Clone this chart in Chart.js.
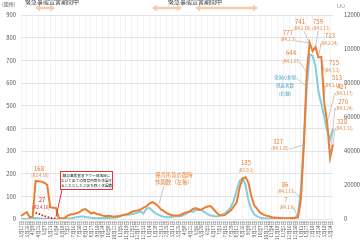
<!DOCTYPE html>
<html lang="ja">
<head>
<meta charset="utf-8">
<title>保育所等の臨時休園数と全国の新規感染者数</title>
<script src="https://cdn.jsdelivr.net/npm/chart.js@4.4.1/dist/chart.umd.min.js"></script>
<style>
html,body{margin:0;padding:0;background:#fff;}
canvas{display:block;}
</style>
</head>
<body>
<canvas id="chart" width="360" height="240"></canvas>
<script>
// weekly (Thursday) categories, R2.3.12 .. R4.3.31
const weeks = [
	'3月12日','3月19日','3月26日','4月2日','4月9日','4月16日','4月23日','4月30日',
	'5月7日','5月14日','5月21日','5月28日','6月4日','6月11日','6月18日','6月25日',
	'7月2日','7月9日','7月16日','7月23日','7月30日','8月6日','8月13日','8月20日','8月27日',
	'9月3日','9月10日','9月17日','9月24日','10月1日','10月8日','10月15日','10月22日','10月29日',
	'11月5日','11月12日','11月19日','11月26日','12月3日','12月10日','12月17日','12月24日','12月31日',
	'1月7日','1月14日','1月21日','1月28日','2月4日','2月11日','2月18日','2月25日',
	'3月4日','3月11日','3月18日','3月25日','4月1日','4月8日','4月15日','4月22日','4月29日',
	'5月6日','5月13日','5月20日','5月27日','6月3日','6月10日','6月17日','6月24日',
	'7月1日','7月8日','7月15日','7月22日','7月29日','8月5日','8月12日','8月19日','8月26日',
	'9月2日','9月9日','9月16日','9月23日','9月30日','10月7日','10月14日','10月21日','10月28日',
	'11月4日','11月11日','11月18日','11月25日','12月2日','12月9日','12月16日','12月23日','12月30日',
	'1月6日','1月13日','1月20日','1月27日','2月3日','2月10日','2月17日','2月24日',
	'3月3日','3月10日','3月17日','3月24日','3月31日'
];

// 保育所等の臨時休園数 (left axis, 箇所)
const closures = [
	13, 22, 30, 8, 10, 168, 167, 165, 160, 150, 52, 50, 48,
	3, 3, 5, 15, 20, 22, 25, 30, 40, 44, 35, 25,
	28, 22, 20, 15, 12, 14, 12, 10, 12, 13,
	18, 20, 25, 32, 35, 38, 42, 50,
	56, 68, 74, 68, 58, 42, 35, 26, 20, 17, 15, 15,
	20, 27, 30, 35, 44, 48, 40, 42, 50, 55, 57, 44,
	28, 18, 16, 18, 28, 38, 55, 75,
	140, 178, 185, 160, 100, 60, 45, 28, 20, 15,
	12, 8, 7, 5, 4, 3, 3, 3, 4, 5, 7,
	86, 327, 644, 777, 741, 759, 713, 715, 513, 427, 270, 328
];

// 2区を除く休園数 (left axis)
const closuresEx2 = [null, null, null, null, null, 27, 24, 18, 13, 9, 6, 3, 1];

// 全国の新規感染者数 (right axis, 人)
const infections = [
	50, 60, 90, 230, 580, 550, 420, 170, 90, 50, 30, 30, 40,
	40, 50, 90, 250, 290, 800, 980, 1260, 1590, 1180, 1000, 690,
	580, 500, 590, 480, 620, 550, 700, 800, 1000, 1600,
	2400, 2500, 2500, 3000, 3200, 3800, 4500, 3200,
	6000, 6600, 5000, 3500, 2600, 1800, 1300, 1100, 1000, 1300, 1400, 1600,
	1800, 2600, 3400, 4600, 4300, 5200, 6000, 5000, 4000, 2800, 2000, 1700,
	1500, 1800, 2500, 3500, 5000, 7000, 11000, 17000,
	22500, 24000, 20000, 11000, 5500, 2800, 1500, 800, 400, 300,
	200, 150, 120, 100, 130, 150, 150, 200, 300, 500, 2500,
	18000, 46000, 78000, 97000, 96000, 90000, 75000, 68000, 60000, 52000, 47000, 53000
];

const leftMax = 900, leftStep = 100;
const rightMax = 120000, rightStep = 20000;

// 緊急事態宣言期間 (category positions)
const emergencyPeriods = [[4.8, 11.7], [44.9, 55.2], [59.7, 81.3]];

const FONT = '"Noto Sans CJK JP", "Noto Sans", sans-serif';
const ORANGE = '#ed7d31';
const TEAL = '#85cddc';
const RED = '#e02020';
const LABEL_ORANGE = '#e27b2e';

// callout layout: which point, and where its label sits
const callouts = [
	{set: 'ex2', i: 5, date: 'R2.4.16', nx: 42, ny: 200, dx: 41, dy: 207},
	{i: 5, date: 'R2.4.16', nx: 39, ny: 169, dx: 40, dy: 175},
	{i: 77, date: 'R3.9.2', nx: 246, ny: 163, dx: 246, dy: 170},
	{i: 95, date: 'R4.1.6', nx: 286, ny: 200, dx: 287, dy: 207, lx: 294, ly: 208},
	{i: 96, date: 'R4.1.13', nx: 285, ny: 185, dx: 286, dy: 191, lx: 295, ly: 192},
	{i: 97, date: 'R4.1.20', nx: 278, ny: 142, dx: 280, dy: 148, lx: 290, ly: 149},
	{i: 98, date: 'R4.1.27', nx: 291, ny: 53, dx: 291, dy: 61, lx: 300, ly: 62},
	{i: 99, date: 'R4.2.3', nx: 288, ny: 33, dx: 288, dy: 39, lx: 296, ly: 41},
	{i: 100, date: 'R4.2.10', nx: 300, ny: 22, dx: 302, dy: 28, lx: 304, ly: 31},
	{i: 101, date: 'R4.2.17', nx: 318, ny: 22, dx: 321, dy: 28, lx: 318, ly: 31},
	{i: 102, date: 'R4.2.24', nx: 330, ny: 36, dx: 329, dy: 43, lx: 321, ly: 44},
	{i: 103, date: 'R4.3.3', nx: 334, ny: 63, dx: 332, dy: 70, lx: 324, ly: 71},
	{i: 104, date: 'R4.3.10', nx: 337, ny: 78, dx: 333, dy: 85, lx: 325, ly: 86},
	{i: 105, date: 'R4.3.17', nx: 342, ny: 87, dx: 344, dy: 93, lx: 335, ly: 93},
	{i: 106, date: 'R4.3.24', nx: 343, ny: 102, dx: 344, dy: 108, lx: 335, ly: 108},
	{i: 107, date: 'R4.3.31', nx: 342, ny: 122, dx: 344, dy: 128, lx: 335, ly: 128}
];

function drawText(ctx, s, x, y, size, color, align){
	ctx.font = size + 'px ' + FONT;
	ctx.fillStyle = color;
	ctx.textAlign = align || 'center';
	ctx.textBaseline = 'middle';
	ctx.fillText(s, x, y);
}
function line(ctx, x1, y1, x2, y2, color, w){
	ctx.strokeStyle = color;
	ctx.lineWidth = w || 0.6;
	ctx.beginPath();
	ctx.moveTo(x1, y1);
	ctx.lineTo(x2, y2);
	ctx.stroke();
}
function dblArrow(ctx, x1, x2, y){
	const h = 3.6, w = 5, s = 1.3;
	ctx.fillStyle = '#f8cbad';
	ctx.beginPath();
	ctx.moveTo(x1, y);
	ctx.lineTo(x1 + w, y - h);
	ctx.lineTo(x1 + w, y - s);
	ctx.lineTo(x2 - w, y - s);
	ctx.lineTo(x2 - w, y - h);
	ctx.lineTo(x2, y);
	ctx.lineTo(x2 - w, y + h);
	ctx.lineTo(x2 - w, y + s);
	ctx.lineTo(x1 + w, y + s);
	ctx.lineTo(x1 + w, y + h);
	ctx.closePath();
	ctx.fill();
}

const overlay = {
	id: 'overlay',
	afterDraw(chart){
		const ctx = chart.ctx;
		const sx = chart.scales.x, sy = chart.scales.y, sy1 = chart.scales.y1;
		ctx.save();

		// axis units
		drawText(ctx, '(箇所)', 2, 4, 5, '#595959', 'left');
		drawText(ctx, '（人）', 341, 5, 4.6, '#595959', 'center');

		// emergency periods
		for(const [a, b] of emergencyPeriods){
			dblArrow(ctx, sx.getPixelForValue(a), sx.getPixelForValue(b), 8);
		}
		drawText(ctx, '緊急事態宣言期間中', 52, 2, 6, '#404040');
		drawText(ctx, '緊急事態宣言期間中', 195, 2, 6, '#404040');

		// callouts
		for(const c of callouts){
			const series = c.set === 'ex2' ? closuresEx2 : closures;
			const v = series[c.i];
			const col = c.set === 'ex2' ? RED : LABEL_ORANGE;
			if(c.lx !== undefined){
				line(ctx, c.lx, c.ly, sx.getPixelForValue(c.i), sy.getPixelForValue(v), '#a6a6a6', 0.6);
			}
			drawText(ctx, String(v), c.nx, c.ny, 6, col);
			drawText(ctx, '(' + c.date + ')', c.dx, c.dy, 4.3, col);
		}

		// series labels
		const p = {x: sx.getPixelForValue(47), y: sy.getPixelForValue(closures[47])};
		line(ctx, 164, 186, p.x + 1, p.y - 2, '#a6a6a6', 0.6);
		drawText(ctx, '保育所等の臨時', 155, 175, 5.4, '#e8893a', 'left');
		drawText(ctx, '休園数（左軸）', 155, 182, 5.4, '#e8893a', 'left');

		const q = {x: sx.getPixelForValue(98), y: sy1.getPixelForValue(infections[98])};
		line(ctx, 296, 78, q.x, q.y, '#a6a6a6', 0.6);
		drawText(ctx, '全国の新規', 285, 77, 4.4, '#4aa3c2');
		drawText(ctx, '感染者数', 285, 85, 4.4, '#4aa3c2');
		drawText(ctx, '（右軸）', 285, 93, 4.4, '#4aa3c2');

		// red note box
		const r = {x: sx.getPixelForValue(12), y: sy.getPixelForValue(closuresEx2[12])};
		line(ctx, 62, 190, r.x, r.y - 2, RED, 0.9);
		ctx.fillStyle = '#fff';
		ctx.fillRect(60, 171, 53, 19);
		ctx.strokeStyle = RED;
		ctx.lineWidth = 0.9;
		ctx.strokeRect(60.5, 171.5, 52, 18);
		drawText(ctx, '緊急事態宣言下で一部地域に', 86.5, 175.5, 3.7, '#222');
		drawText(ctx, 'おいて全ての保育所等を休園す', 86.5, 180.5, 3.7, '#222');
		drawText(ctx, 'ることとした２区を除く休園数', 86.5, 185.5, 3.7, '#222');

		ctx.restore();
	}
};

new Chart(document.getElementById('chart'), {
	type: 'line',
	data: {
		labels: weeks,
		datasets: [
			{
				label: '2区を除く休園数',
				data: closuresEx2,
				yAxisID: 'y',
				borderColor: RED,
				borderWidth: 1.8,
				borderDash: [1.6, 1.6],
				pointRadius: 0
			},
			{
				label: '保育所等の臨時休園数（左軸）',
				data: closures,
				yAxisID: 'y',
				borderColor: ORANGE,
				borderWidth: 2,
				pointRadius: 0
			},
			{
				label: '全国の新規感染者数（右軸）',
				data: infections,
				yAxisID: 'y1',
				borderColor: TEAL,
				borderWidth: 2,
				pointRadius: 0
			}
		]
	},
	options: {
		responsive: false,
		animation: false,
		layout: {padding: {top: 15}},
		plugins: {legend: {display: false}, tooltip: {enabled: false}},
		scales: {
			x: {
				grid: {color: '#f3f3f3', drawTicks: false, lineWidth: ctx => ctx.index % 2 === 0 ? 1 : 0},
				border: {display: false},
				ticks: {
					autoSkip: false, maxRotation: 90, minRotation: 90, padding: 2,
					color: '#595959', font: {size: 4.5, family: FONT},
					callback: (v, i) => i % 2 === 0 ? weeks[i] : ''
				},
				afterFit: s => { s.height = 21; }
			},
			y: {
				position: 'left', min: 0, max: leftMax,
				ticks: {stepSize: leftStep, padding: 5, color: '#595959', font: {size: 5.8, family: FONT}},
				grid: {color: '#e4e4e4', drawTicks: false},
				border: {display: false},
				afterFit: s => { s.width = 21; }
			},
			y1: {
				position: 'right', min: 0, max: rightMax,
				ticks: {
					stepSize: rightStep, padding: 3, color: '#595959', font: {size: 5.8, family: FONT},
					callback: v => String(v)
				},
				grid: {display: false},
				border: {display: false},
				afterFit: s => { s.width = 27; }
			}
		}
	},
	plugins: [overlay]
});
</script>
</body>
</html>
